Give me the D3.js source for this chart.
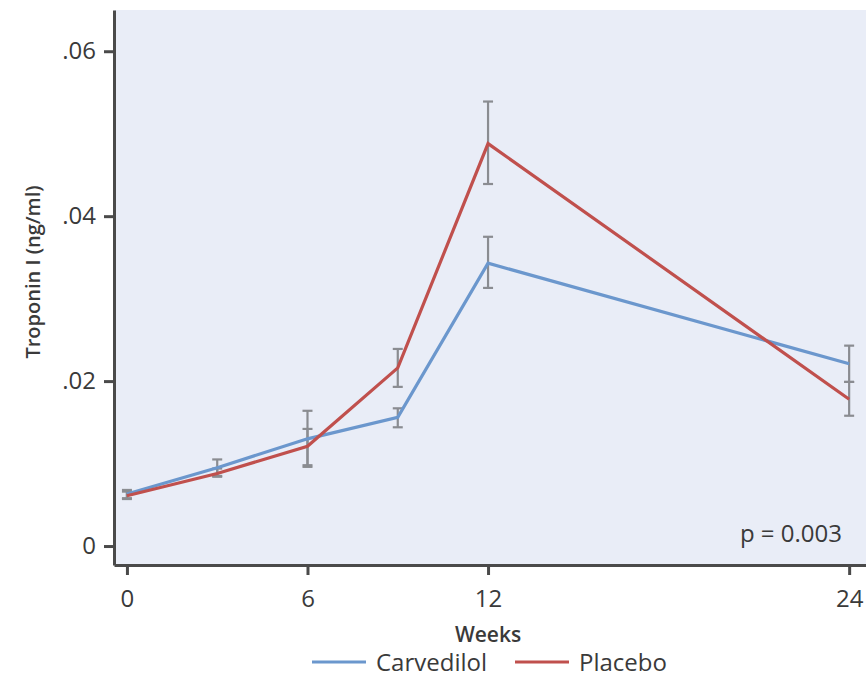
<!DOCTYPE html>
<html>
<head>
<meta charset="utf-8">
<script src="https://cdn.jsdelivr.net/npm/d3@7"></script>
<style>
  body { margin: 0; background: #fff; }
  text { font-family: "Open Sans", "Noto Sans", sans-serif; }
</style>
</head>
<body>
<div id="chart"></div>
<script>
const WIDTH = 866
const HEIGHT = 684

// data
const weeks = [0, 3, 6, 9, 12, 24]
const xTicks = [0, 6, 12, 24]
const yTicks = [0, 0.02, 0.04, 0.06]
const carvedilol = [0.0063, 0.0095, 0.0130, 0.0156, 0.0343, 0.0221]
const carvedilolLo = [0.0058, 0.0085, 0.0096, 0.0144, 0.0313, 0.0199]
const carvedilolHi = [0.0068, 0.0105, 0.0164, 0.0167, 0.0375, 0.0243]
const placebo = [0.0061, 0.0088, 0.0121, 0.0216, 0.0488, 0.0178]
const placeboLo = [0.0057, 0.0084, 0.0098, 0.0193, 0.0439, 0.0158]
const placeboHi = [0.0066, 0.0094, 0.0142, 0.0239, 0.0539, 0.0199]

const MARGIN = {top: 10, bot: 119, left: 114, right: 0}

const svg = d3.select("#chart")
    .append("svg")
    .attr("width", WIDTH)
    .attr("height", HEIGHT)

const x = d3.scaleLinear()
    .domain([-0.43, 24.56])
    .range([MARGIN.left, WIDTH - MARGIN.right])

const y = d3.scaleLinear()
    .domain([-0.0023, 0.0650])
    .range([HEIGHT - MARGIN.bot, MARGIN.top])

// plot background
svg.append("rect")
    .attr("x", x(-0.43))
    .attr("y", y(0.065))
    .attr("width", x(24.56) - x(-0.43))
    .attr("height", y(-0.0023) - y(0.065))
    .attr("fill", "#e9edf7")

const series = [
    {name: "Carvedilol", color: "#6b97cd", vals: carvedilol, lo: carvedilolLo, hi: carvedilolHi},
    {name: "Placebo", color: "#c0504d", vals: placebo, lo: placeboLo, hi: placeboHi}
]

const line = d3.line()
    .x(d => x(d.w))
    .y(d => y(d.v))

// error bars first
series.forEach(s => {
    const g = svg.append("g").attr("stroke", "#8a8c91").attr("stroke-width", 2.2)
    weeks.forEach((w, i) => {
        g.append("line")
            .attr("x1", x(w)).attr("x2", x(w))
            .attr("y1", y(s.lo[i])).attr("y2", y(s.hi[i]))
        ;[s.lo[i], s.hi[i]].forEach(v => {
            g.append("line")
                .attr("x1", x(w) - 5).attr("x2", x(w) + 5)
                .attr("y1", y(v)).attr("y2", y(v))
        })
    })
})

series.forEach(s => {
    svg.append("path")
        .attr("d", line(weeks.map((w, i) => ({w: w, v: s.vals[i]}))))
        .attr("stroke", s.color)
        .attr("stroke-width", 3.2)
        .attr("fill", "none")
})

const xAxis = d3.axisBottom(x).tickValues(xTicks).tickFormat(d3.format("d")).tickSize(10).tickSizeOuter(0)
const yAxis = d3.axisLeft(y).tickValues(yTicks)
    .tickFormat(d => d === 0 ? "0" : d3.format(".2f")(d).replace(/^0/, ""))
    .tickSize(10).tickSizeOuter(0)

const gx = svg.append("g")
    .attr("transform", `translate(0, ${HEIGHT - MARGIN.bot})`)
    .call(xAxis)
gx.select(".domain").attr("stroke", "#4a4a4a").attr("stroke-width", 3)
gx.selectAll(".tick line").attr("stroke", "#4a4a4a").attr("stroke-width", 3)
gx.selectAll("text").attr("font-size", 24).attr("fill", "#3a3a3a").attr("y", 42).attr("dy", 0)

const gy = svg.append("g")
    .attr("transform", `translate(${MARGIN.left}, 0)`)
    .call(yAxis)
gy.select(".domain").attr("stroke", "#4a4a4a").attr("stroke-width", 3)
gy.selectAll(".tick line").attr("stroke", "#4a4a4a").attr("stroke-width", 3)
gy.selectAll("text").attr("font-size", 24).attr("fill", "#3a3a3a").attr("x", -18)

svg.append("text")
    .attr("x", x(12))
    .attr("y", 642)
    .attr("text-anchor", "middle")
    .attr("font-size", 21)
    .attr("font-weight", 600)
    .attr("fill", "#3a3a3a")
    .text("Weeks")

svg.append("text")
    .attr("transform", "translate(40, 272) rotate(-90)")
    .attr("text-anchor", "middle")
    .attr("font-size", 20)
    .attr("font-weight", 600)
    .attr("fill", "#3a3a3a")
    .text("Troponin I (ng/ml)")

svg.append("text")
    .attr("x", 842)
    .attr("y", 542)
    .attr("text-anchor", "end")
    .attr("font-size", 24)
    .attr("fill", "#3a3a3a")
    .text("p = 0.003")

// legend
const legendX = [312, 515]
series.forEach((s, i) => {
    svg.append("line")
        .attr("x1", legendX[i]).attr("x2", legendX[i] + 54)
        .attr("y1", 662).attr("y2", 662)
        .attr("stroke", s.color)
        .attr("stroke-width", 3)
    svg.append("text")
        .attr("x", legendX[i] + 64)
        .attr("y", 671)
        .attr("font-size", 24)
        .attr("fill", "#3a3a3a")
        .text(s.name)
})
</script>
</body>
</html>
